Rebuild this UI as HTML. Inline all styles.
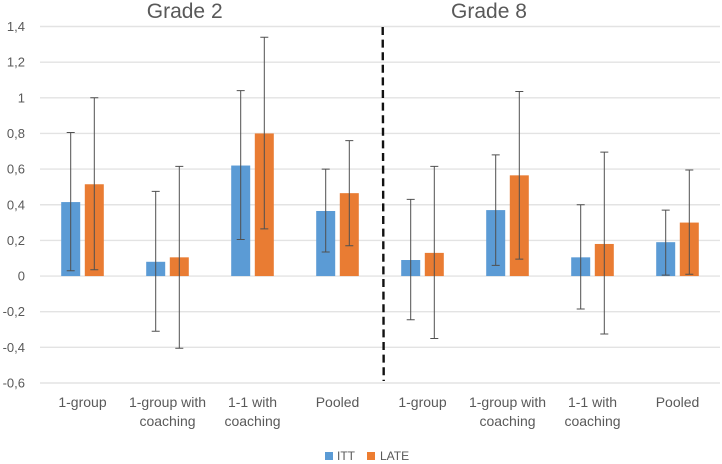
<!DOCTYPE html>
<html lang="en">
<head>
<meta charset="utf-8">
<title>ITT and LATE by grade</title>
<style>
html,body{margin:0;padding:0;background:#fff;width:722px;height:464px;overflow:hidden}
svg{display:block;filter:blur(0.35px)}
text{font-family:"Liberation Sans",sans-serif;fill:#595959}
</style>
</head>
<body>
<svg id="chart" width="722" height="464" viewBox="0 0 722 464" xmlns="http://www.w3.org/2000/svg">
  <g id="grid"></g>
  <g id="yticks"></g>
  <g id="bars"></g>
  <g id="errors"></g>
  <g id="xticks"></g>
  <text x="184.7" y="18" font-size="21" text-anchor="middle">Grade 2</text>
  <text x="489" y="18" font-size="21" text-anchor="middle">Grade 8</text>
  <line x1="382.7" y1="27" x2="383.7" y2="381" stroke="#111" stroke-width="2.4" stroke-dasharray="8 4.6"/>
  <g>
    <rect x="325" y="452" width="8" height="8" fill="#5b9bd5"/>
    <text x="337" y="460" font-size="12">ITT</text>
    <rect x="367" y="452" width="8" height="8" fill="#ed7d31"/>
    <text x="380" y="460" font-size="12">LATE</text>
  </g>
</svg>
<script>
const categories = [
  ["1-group"], ["1-group with", "coaching"], ["1-1 with", "coaching"], ["Pooled"],
  ["1-group"], ["1-group with", "coaching"], ["1-1 with", "coaching"], ["Pooled"]
];
const ittValues  = [0.415, 0.08, 0.62, 0.365, 0.09, 0.37, 0.105, 0.19];
const lateValues = [0.515, 0.105, 0.80, 0.465, 0.13, 0.565, 0.18, 0.30];
const ittUpper  = [0.805, 0.475, 1.04, 0.60, 0.43, 0.68, 0.40, 0.37];
const ittLower  = [0.03, -0.31, 0.205, 0.135, -0.245, 0.06, -0.185, 0.005];
const lateUpper = [1.0, 0.615, 1.34, 0.76, 0.615, 1.035, 0.695, 0.595];
const lateLower = [0.035, -0.405, 0.265, 0.17, -0.35, 0.095, -0.325, 0.01];
const tickValues = [1.4, 1.2, 1, 0.8, 0.6, 0.4, 0.2, 0, -0.2, -0.4, -0.6];
const tickLabels = ["1,4", "1,2", "1", "0,8", "0,6", "0,4", "0,2", "0", "-0,2", "-0,4", "-0,6"];

const NS = "http://www.w3.org/2000/svg";
const plotLeft = 40, plotRight = 720, plotTop = 26.5, plotBottom = 383;
const yMax = 1.4, yMin = -0.6;
function yScale(v) { return plotTop + (yMax - v) / (yMax - yMin) * (plotBottom - plotTop); }
function xCenter(i) { return plotLeft + (i + 0.5) * (plotRight - plotLeft) / categories.length; }
function make(tag, attrs, parent) {
  const el = document.createElementNS(NS, tag);
  for (const k in attrs) el.setAttribute(k, attrs[k]);
  parent.appendChild(el);
  return el;
}

const gGrid = document.getElementById("grid");
const gY = document.getElementById("yticks");
tickValues.forEach((v, i) => {
  const y = yScale(v);
  const gl = make("line", {x1: plotLeft, x2: plotRight, y1: y, y2: y, stroke: "#e3e3e3", "stroke-width": 1.4}, gGrid);
  
  
  const t = make("text", {x: 25, y: y + 4.5, "font-size": 13, "text-anchor": "end"}, gY);
  
  
  t.textContent = tickLabels[i];
});

const gBars = document.getElementById("bars");
const gErr = document.getElementById("errors");
const barW = 19, offset = 11.8;
function drawSeries(values, upper, lower, sign, color, key) {
  values.forEach((v, i) => {
    const cx = xCenter(i) + sign * offset;
    const y0 = yScale(0), yv = yScale(v);
    const r = make("rect", {x: cx - barW / 2, y: Math.min(y0, yv), width: barW, height: Math.abs(y0 - yv), fill: color}, gBars);
    
    
    const yu = yScale(upper[i]), yl = yScale(lower[i]);
    const e = make("path", {
      d: "M" + cx + " " + yu + "V" + yl + "M" + (cx - 4) + " " + yu + "H" + (cx + 4) + "M" + (cx - 4) + " " + yl + "H" + (cx + 4),
      stroke: "#505050", "stroke-width": 1, fill: "none"
    }, gErr);
    
    
  });
}
drawSeries(ittValues, ittUpper, ittLower, -1, "#5b9bd5", "itt");
drawSeries(lateValues, lateUpper, lateLower, 1, "#e97c33", "late");

const gX = document.getElementById("xticks");
categories.forEach((lines, i) => {
  lines.forEach((line, j) => {
    const t = make("text", {x: xCenter(i), y: 407 + j * 19, "font-size": 14, "text-anchor": "middle"}, gX);
    
    
    t.textContent = line;
  });
});
</script>
</body>
</html>
